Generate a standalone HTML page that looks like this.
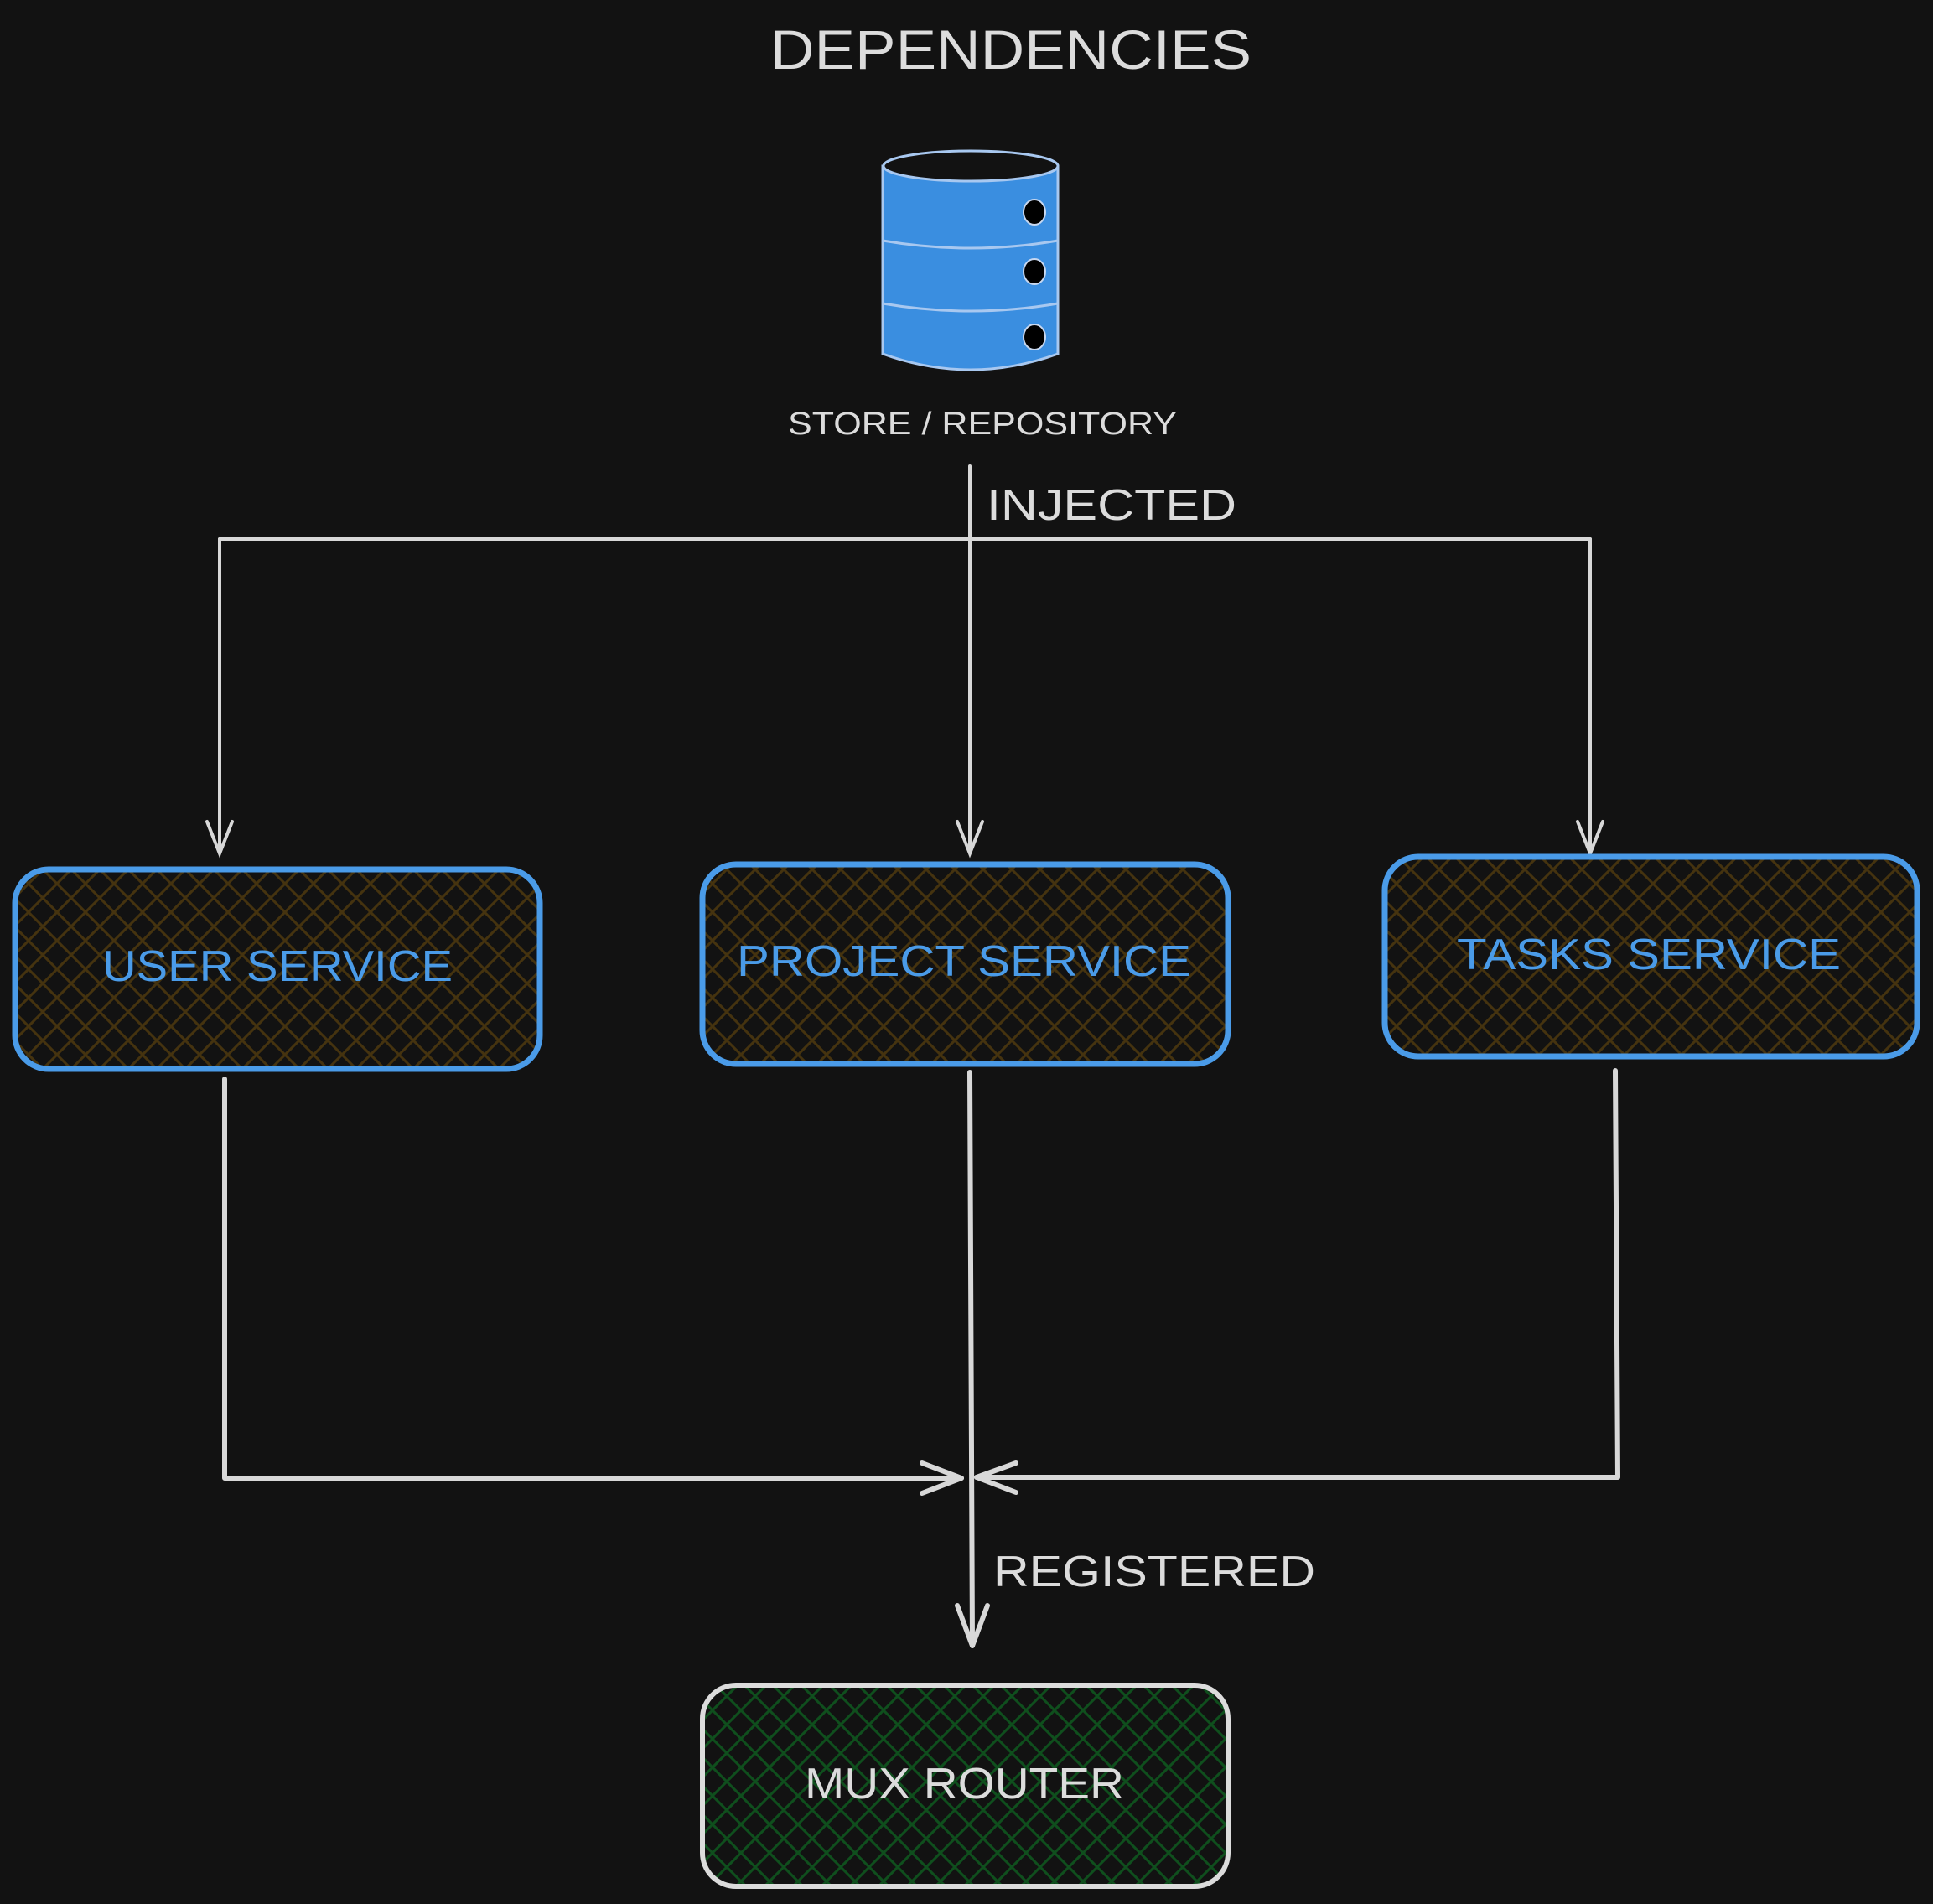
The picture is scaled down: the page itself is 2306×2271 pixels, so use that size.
<!DOCTYPE html>
<html><head><meta charset="utf-8"><style>
html,body{margin:0;padding:0;background:#121212;}
svg{display:block;}
text{font-family:"Liberation Sans",sans-serif;}
</style></head><body>
<svg width="2306" height="2271" viewBox="0 0 2306 2271" xmlns="http://www.w3.org/2000/svg">
<defs>
<pattern id="hb" width="34" height="34" patternUnits="userSpaceOnUse">
<path d="M0 0L34 34M34 0L0 34" stroke="#45330f" stroke-width="3"/>
</pattern>
<pattern id="hg" width="34" height="34" patternUnits="userSpaceOnUse">
<path d="M0 0L34 34M34 0L0 34" stroke="#0f4f1d" stroke-width="3"/>
</pattern>
</defs>
<rect width="2306" height="2271" fill="#121212"/>
<text x="919" y="82" font-size="66" fill="#dcdcdc" textLength="574" lengthAdjust="spacingAndGlyphs">DEPENDENCIES</text>

<!-- database -->
<g stroke="#a8c8f0" stroke-width="3">
<path d="M1053 198 L1053 422 Q1158 460 1262 422 L1262 198 Z" fill="#3a8ee0"/>
<ellipse cx="1158" cy="198" rx="104" ry="18" fill="#121212"/>
<path d="M1053 287 Q1158 305 1262 287" fill="none"/>
<path d="M1053 362 Q1158 380 1262 362" fill="none"/>
</g>
<g fill="#000" stroke="#c8d8f0" stroke-width="2">
<ellipse cx="1234" cy="253" rx="13" ry="15"/>
<ellipse cx="1234" cy="324" rx="13" ry="15"/>
<ellipse cx="1234" cy="402" rx="13" ry="15"/>
</g>
<text x="940" y="518" font-size="38" fill="#dcdcdc" textLength="464" lengthAdjust="spacingAndGlyphs">STORE / REPOSITORY</text>

<!-- injected connectors -->
<g stroke="#d8d8d8" stroke-width="4" fill="none" stroke-linecap="round">
<path d="M1157 556 L1157 1015"/>
<path d="M262 643 L1897 643"/>
<path d="M262 643 L262 1015"/>
<path d="M1897 643 L1897 1015"/>
<path d="M247 980 L262 1018 L277 980"/>
<path d="M1142 980 L1157 1018 L1172 980"/>
<path d="M1882 980 L1897 1018 L1912 980"/>
</g>
<text x="1177" y="620" font-size="52" fill="#dcdcdc" textLength="298" lengthAdjust="spacingAndGlyphs">INJECTED</text>

<!-- service boxes -->
<g stroke="#4a9be8" stroke-width="7">
<rect x="18" y="1037" width="626" height="238" rx="40" fill="url(#hb)"/>
<rect x="838" y="1031" width="627" height="238" rx="40" fill="url(#hb)"/>
<rect x="1652" y="1022" width="635" height="238" rx="40" fill="url(#hb)"/>
</g>
<g font-size="52" fill="#4a9be8">
<text x="122" y="1170" textLength="418" lengthAdjust="spacingAndGlyphs">USER SERVICE</text>
<text x="879" y="1164" textLength="542" lengthAdjust="spacingAndGlyphs">PROJECT SERVICE</text>
<text x="1738" y="1156" textLength="458" lengthAdjust="spacingAndGlyphs">TASKS SERVICE</text>
</g>

<!-- registered connectors -->
<g stroke="#d8d8d8" stroke-width="6" fill="none" stroke-linecap="round" stroke-linejoin="round">
<path d="M268 1287 L268 1763 L1147 1763"/>
<path d="M1927 1277 L1930 1762 L1165 1762"/>
<path d="M1157 1279 L1160 1963"/>
<path d="M1100 1745 L1147 1763 L1100 1781"/>
<path d="M1212 1745 L1165 1762 L1212 1780"/>
<path d="M1142 1915 L1160 1963 L1178 1915"/>
</g>
<text x="1185" y="1892" font-size="52" fill="#dcdcdc" textLength="384" lengthAdjust="spacingAndGlyphs">REGISTERED</text>

<rect x="838" y="2010" width="627" height="240" rx="40" fill="url(#hg)" stroke="#dcdcdc" stroke-width="6"/>
<text x="960" y="2145" font-size="52" fill="#dcdcdc" textLength="381" lengthAdjust="spacingAndGlyphs">MUX ROUTER</text>
</svg>
</body></html>
